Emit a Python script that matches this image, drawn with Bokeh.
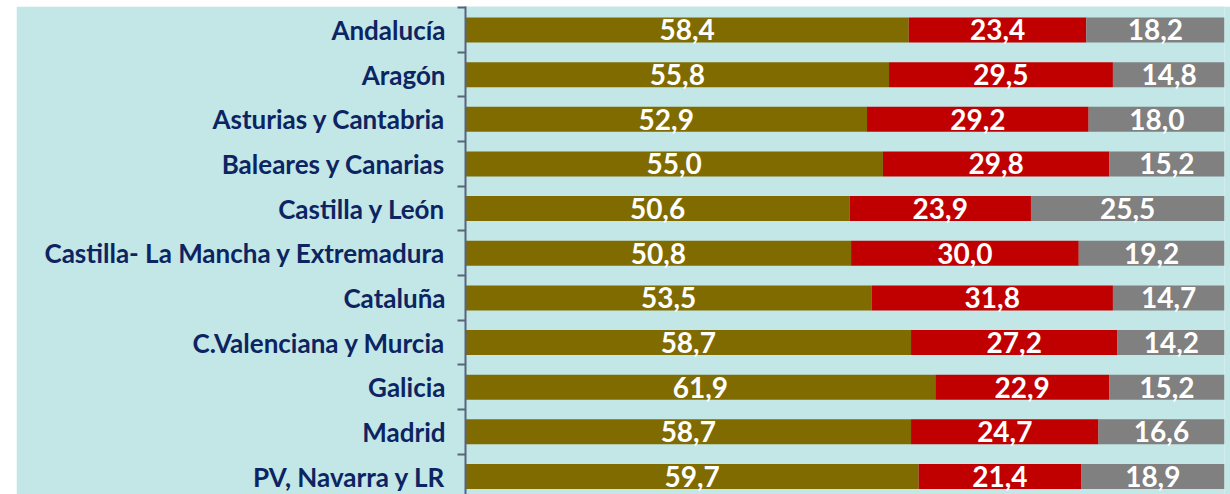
from bokeh.plotting import figure
from bokeh.models import ColumnDataSource, Range1d, FixedTicker
from bokeh.core.properties import value
from bokeh.embed import file_html
from bokeh.resources import INLINE

categories = ["Andalucía", "Aragón", "Asturias y Cantabria", "Baleares y Canarias",
              "Castilla y León", "Castilla- La Mancha y Extremadura", "Cataluña",
              "C.Valenciana y Murcia", "Galicia", "Madrid", "PV, Navarra y LR"]
serie1 = [58.4, 55.8, 52.9, 55.0, 50.6, 50.8, 53.5, 58.7, 61.9, 58.7, 59.7]
serie2 = [23.4, 29.5, 29.2, 29.8, 23.9, 30.0, 31.8, 27.2, 22.9, 24.7, 21.4]
serie3 = [18.2, 14.8, 18.0, 15.2, 25.5, 19.2, 14.7, 14.2, 15.2, 16.6, 18.9]
colors = ["#7F6B00", "#C00000", "#808080"]

BG = "#C3E6E6"
ys = [i + 0.5 for i in range(len(categories))]

p = figure(width=1214, height=488, output_backend="svg", toolbar_location=None,
           x_range=Range1d(0, 100), y_range=Range1d(10.903, -0.026),
           min_border_left=449, min_border_right=6, min_border_top=0, min_border_bottom=0,
           x_axis_location=None, margin=(6, 0, 0, 16))
p.background_fill_color = BG
p.border_fill_color = BG
p.outline_line_color = None
p.xgrid.visible = False
p.ygrid.visible = False

series = [serie1, serie2, serie3]
left = [0.0] * len(categories)
for vals, col in zip(series, colors):
    right = [l + v for l, v in zip(left, vals)]
    src = ColumnDataSource(dict(
        y=ys, left=left, right=right,
        xc=[(l + r) / 2 for l, r in zip(left, right)],
        lab=[f"{v:.1f}".replace(".", ",") for v in vals]))
    p.hbar(y="y", left="left", right="right", height=0.56, source=src,
           fill_color=col, line_color=None)
    p.text(x="xc", y="y", text="lab", source=src, text_font=value("Lato"),
           text_font_style="bold", text_font_size="28px", text_color="white",
           text_align="center", text_baseline="middle")
    left = right

ax = p.yaxis[0]
ax.ticker = FixedTicker(ticks=ys, minor_ticks=list(range(len(categories) + 1)))
ax.major_label_overrides = {y: c for y, c in zip(ys, categories)}
ax.major_tick_out = 0
ax.major_tick_in = 0
ax.minor_tick_out = 8
ax.minor_tick_in = 0
ax.minor_tick_line_color = "#56657A"
ax.minor_tick_line_width = 2
ax.axis_line_color = "#56657A"
ax.axis_line_width = 2
ax.major_label_standoff = 12
ax.major_label_text_font = "Lato"
ax.major_label_text_font_style = "bold"
ax.major_label_text_font_size = "26px"
ax.major_label_text_color = "#0C2461"

open("out.html", "w").write(file_html(p, INLINE))
